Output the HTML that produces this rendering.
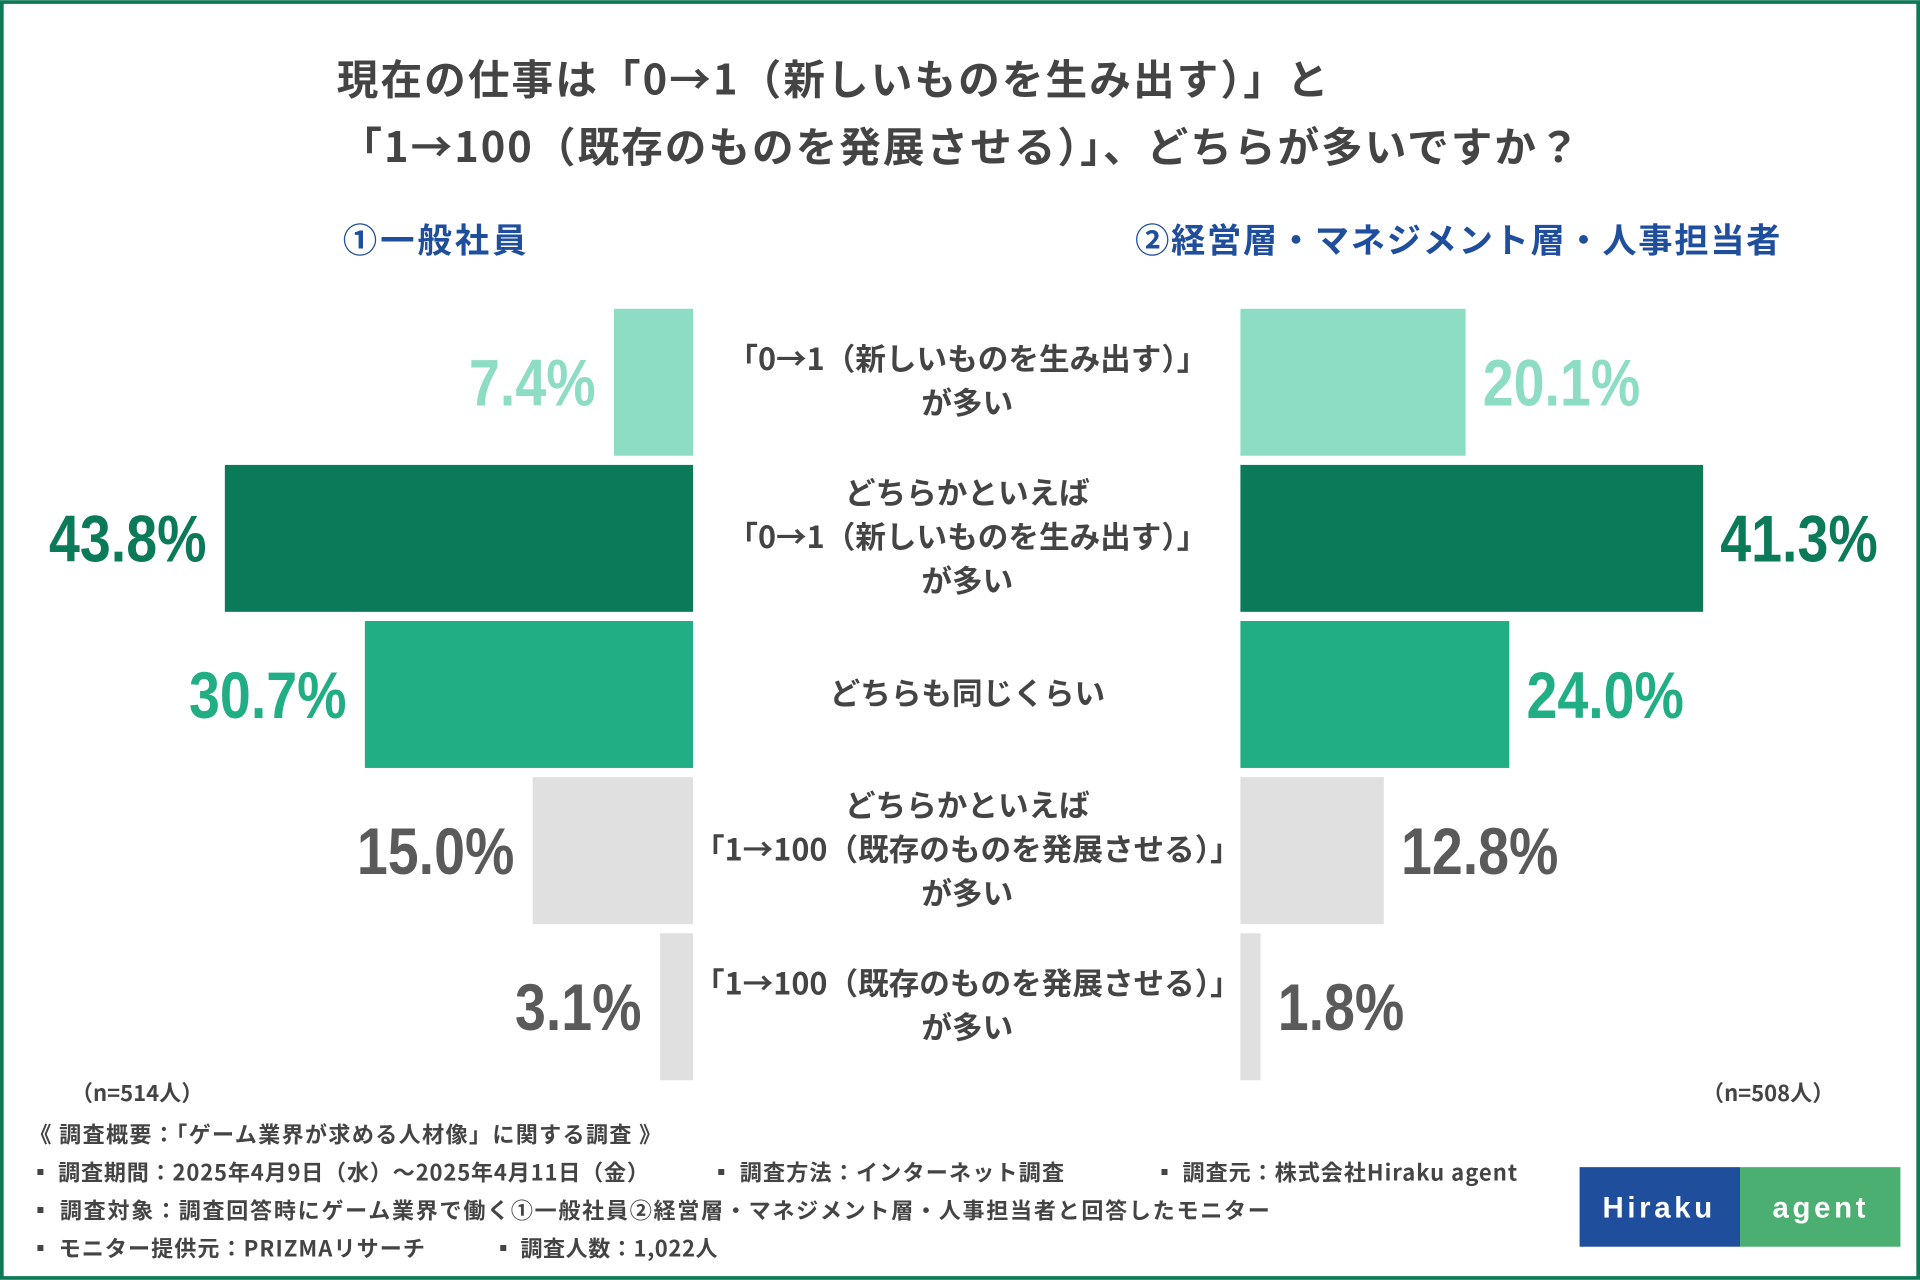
<!DOCTYPE html>
<html><head><meta charset="utf-8"><style>
html,body{margin:0;padding:0;background:#fff}
svg{display:block}
text{font-family:"Liberation Sans","Noto Sans CJK JP",sans-serif;font-weight:bold}
.cjk{font-family:"Noto Sans CJK JP","Liberation Sans",sans-serif}
.num{font-family:"Liberation Sans Narrow","Liberation Sans",sans-serif;font-weight:bold}
</style></head><body>
<svg id="chart" width="1920" height="1280" viewBox="0 0 1568 1045" xmlns="http://www.w3.org/2000/svg">
<rect x="1.5" y="1.5" width="1565" height="1042" fill="#fff" stroke="#0d7a55" stroke-width="3"/>
<text class="cjk" x="275" y="77" font-size="34" fill="#444" textLength="810" lengthAdjust="spacing">現在の仕事は「0→1（新しいものを生み出す）」と</text>
<text class="cjk" x="278" y="132" font-size="34" fill="#444" textLength="1012" lengthAdjust="spacing">「1→100（既存のものを発展させる）」、どちらが多いですか？</text>
<text class="cjk" x="280" y="206" font-size="28" fill="#1f4e9c" textLength="150" lengthAdjust="spacing">①一般社員</text>
<text class="cjk" x="927" y="206" font-size="28" fill="#1f4e9c" textLength="527" lengthAdjust="spacing">②経営層・マネジメント層・人事担当者</text>
<g id="bars"></g>
<text class="cjk" x="58" y="899" font-size="18" fill="#444">（n=514人）</text>
<text class="cjk" x="1390" y="899" font-size="18" fill="#444">（n=508人）</text>
<g class="cjk" font-size="18" fill="#444">
<text class="cjk" x="24" y="933" textLength="516" lengthAdjust="spacing">《 調査概要：「ゲーム業界が求める人材像」に関する調査 》</text>
<text class="cjk" x="24" y="964" textLength="506" lengthAdjust="spacing">▪ 調査期間：2025年4月9日（水）～2025年4月11日（金）</text>
<text class="cjk" x="580" y="964" textLength="289" lengthAdjust="spacing">▪ 調査方法：インターネット調査</text>
<text class="cjk" x="942" y="964" textLength="297" lengthAdjust="spacing">▪ 調査元：株式会社Hiraku agent</text>
<text class="cjk" x="24" y="995" textLength="1013" lengthAdjust="spacing">▪ 調査対象：調査回答時にゲーム業界で働く①一般社員②経営層・マネジメント層・人事担当者と回答したモニター</text>
<text class="cjk" x="24" y="1026" textLength="323" lengthAdjust="spacing">▪ モニター提供元：PRIZMAリサーチ</text>
<text class="cjk" x="402" y="1026" textLength="184" lengthAdjust="spacing">▪ 調査人数：1,022人</text>
</g>
<g>
<rect x="1290" y="953" width="131" height="65" fill="#1f4e9c"/>
<rect x="1421" y="953" width="131" height="65" fill="#4caf72"/>
<text x="1355" y="994" font-size="24" fill="#fff" text-anchor="middle" letter-spacing="3">Hiraku</text>
<text x="1487" y="994" font-size="24" fill="#fff" text-anchor="middle" letter-spacing="3">agent</text>
</g>
</svg>
<script>
const categories=["「0→1（新しいものを生み出す）」|が多い","どちらかといえば|「0→1（新しいものを生み出す）」|が多い","どちらも同じくらい","どちらかといえば|「1→100（既存のものを発展させる）」|が多い","「1→100（既存のものを発展させる）」|が多い"];
const leftValues=[7.4,43.8,30.7,15.0,3.1];
const rightValues=[20.1,41.3,24.0,12.8,1.8];
const barColors=["#8ddcc4","#0a7a58","#22ae84","#e0e0e0","#e0e0e0"];
const textColors=["#8ddcc4","#0a7a58","#22ae84","#5a5a5a","#5a5a5a"];
const NS="http://www.w3.org/2000/svg";
const g=document.getElementById('bars');
const leftX=v=>566-v*8.73, rightX=v=>1013+v*9.15;
const rowY=i=>252+i*127.5, bh=120;
const SX=0.84;
function mk(tag,a){const e=document.createElementNS(NS,tag);for(const k in a)e.setAttribute(k,a[k]);g.appendChild(e);return e;}
categories.forEach((c,i)=>{
 const y=rowY(i),lv=leftValues[i],rv=rightValues[i];
 const lb=mk('rect',{x:leftX(lv),y:y,width:566-leftX(lv),height:bh,fill:barColors[i]});
 
 
 const rb=mk('rect',{x:1013,y:y,width:rightX(rv)-1013,height:bh,fill:barColors[i]});
 
 
 const ty=y+bh/2+19;
 const lt=mk('text',{x:0,y:0,'font-size':54,'text-anchor':'end',fill:textColors[i],class:'num',transform:`translate(${leftX(lv)-15},${ty}) scale(${SX},1)`});
 lt.textContent=lv.toFixed(1)+'%';
 
 
 const rt=mk('text',{x:0,y:0,'font-size':54,fill:textColors[i],class:'num',transform:`translate(${rightX(rv)+14},${ty}) scale(${SX},1)`});
 rt.textContent=rv.toFixed(1)+'%';
 
 
 const lines=c.split('|');
 lines.forEach((l,j)=>{
  const t=mk('text',{x:790,y:y+bh/2+8+(j-(lines.length-1)/2)*36,'font-size':25,'text-anchor':'middle',fill:'#444',class:'cjk'});
  t.textContent=l;
  
  
 });
});
</script>
</body></html>
